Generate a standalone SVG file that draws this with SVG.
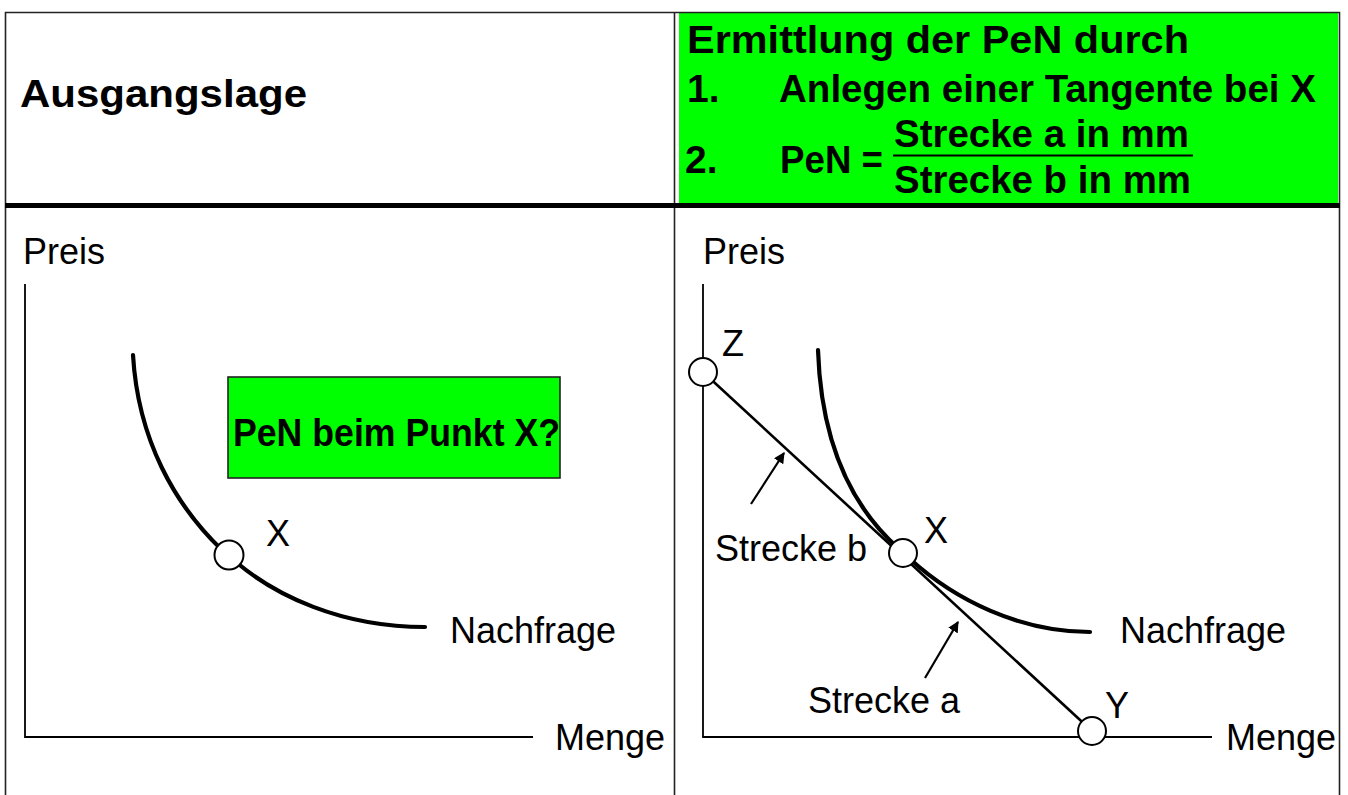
<svg xmlns="http://www.w3.org/2000/svg" width="1348" height="795" viewBox="0 0 1348 795">
<style>
.frame{stroke:#222;stroke-width:1.6;fill:none}
.axis{stroke:#000;stroke-width:1.8;fill:none}
.curve{stroke:#000;stroke-width:4.2;fill:none;stroke-linecap:round}
.tan{stroke:#000;stroke-width:2.6;fill:none}
.pt{fill:#fff;stroke:#000;stroke-width:2}
.lbl{font-family:"Liberation Sans",Arial,Helvetica,sans-serif;font-size:36px;fill:#000}
.hb{font-family:"Liberation Sans",Arial,Helvetica,sans-serif;font-size:39px;font-weight:bold;fill:#000}
.green{fill:#00ff00}
</style>
<defs>
<marker id="ah" viewBox="0 0 10 10" refX="9" refY="5" markerWidth="5" markerHeight="5" orient="auto" markerUnits="strokeWidth">
<path d="M0,0 L10,5 L0,10 z" fill="#000"/>
</marker>
</defs>
<rect width="1348" height="795" fill="#fff"/>
<g id="frame">
<rect class="green" x="679" y="13" width="659" height="191"/>
<path class="frame" d="M5.5,800 V12.5 H1339.5 V800"/>
<line class="frame" x1="674.5" y1="12" x2="674.5" y2="800"/>
<line x1="5" y1="205.5" x2="1340" y2="205.5" stroke="#000" stroke-width="5"/>
</g>
<g id="header-left">
<text class="hb" x="20" y="107" font-size="40" textLength="287" lengthAdjust="spacingAndGlyphs">Ausgangslage</text>
</g>
<g id="header-right">
<text class="hb" x="687" y="53" textLength="502" lengthAdjust="spacingAndGlyphs">Ermittlung der PeN durch</text>
<text class="hb" x="687" y="102">1.</text>
<text class="hb" x="779" y="102" textLength="537" lengthAdjust="spacingAndGlyphs">Anlegen einer Tangente bei X</text>
<text class="hb" x="894" y="147" font-size="37" textLength="295" lengthAdjust="spacingAndGlyphs">Strecke a in mm</text>
<line x1="893" y1="155.5" x2="1193" y2="155.5" stroke="#000" stroke-width="2"/>
<text class="hb" x="685" y="173" font-size="37">2.</text>
<text class="hb" x="780" y="173" font-size="37" textLength="103" lengthAdjust="spacingAndGlyphs">PeN =</text>
<text class="hb" x="894" y="193" font-size="37" textLength="297" lengthAdjust="spacingAndGlyphs">Strecke b in mm</text>
</g>
<g id="chart-left">
<path class="axis" d="M25,284 V737 H533"/>
<text class="lbl" x="23" y="264">Preis</text>
<text class="lbl" x="555" y="750">Menge</text>
<path class="curve" d="M133,355 C138,440 175,505 222,550 M236,562 C275,595 340,627 425,627"/>
<circle class="pt" cx="229" cy="555" r="14.5"/>
<text class="lbl" x="266" y="546">X</text>
<text class="lbl" x="450" y="643">Nachfrage</text>
<g id="question">
<rect x="228" y="377" width="332" height="101" fill="#00ff00" stroke="#222" stroke-width="1.6"/>
<text class="hb" x="233" y="446" font-size="34" textLength="327" lengthAdjust="spacingAndGlyphs">PeN beim Punkt X?</text>
</g>
</g>
<g id="chart-right">
<path class="axis" d="M703,284 V737 H1212"/>
<text class="lbl" x="703" y="264">Preis</text>
<text class="lbl" x="1226" y="750">Menge</text>
<path class="curve" d="M818,350 C821,440 850,505 898,548 M910,559 C955,600 1020,632 1090,632"/>
<text class="lbl" x="1120" y="643">Nachfrage</text>
<g id="connectors">
<line class="tan" x1="703" y1="372" x2="1092" y2="731"/>
<line x1="751" y1="504" x2="784" y2="453" stroke="#000" stroke-width="2.2" marker-end="url(#ah)"/>
<line x1="925" y1="678" x2="958" y2="622" stroke="#000" stroke-width="2.2" marker-end="url(#ah)"/>
</g>
<g id="pt-z"><circle class="pt" cx="703" cy="372" r="14"/><text class="lbl" x="722" y="356">Z</text></g>
<g id="pt-x"><circle class="pt" cx="903" cy="553" r="14"/><text class="lbl" x="924" y="543">X</text></g>
<g id="pt-y"><circle class="pt" cx="1092" cy="731" r="14"/><text class="lbl" x="1105" y="718">Y</text></g>
<text class="lbl" x="715" y="561">Strecke b</text>
<text class="lbl" x="808" y="713">Strecke a</text>
</g>
</svg>
